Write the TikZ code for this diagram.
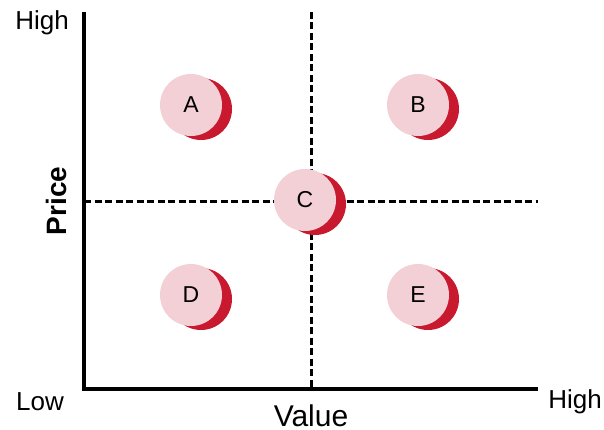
\documentclass[tikz,border=0pt]{standalone}
\usepackage{fontspec}
\setmainfont{Liberation Sans}
\definecolor{darkred}{HTML}{C8192E}
\definecolor{lightpink}{HTML}{F2D0D5}
\begin{document}
\begin{tikzpicture}[x=1pt,y=-1pt,
  axis/.style={line width=3.3pt},
  divider/.style={line width=3pt,dash pattern=on 7pt off 3.5pt},
  back/.style={circle,fill=darkred,minimum size=62pt,inner sep=0pt},
  front/.style={circle,fill=lightpink,minimum size=62pt,inner sep=0pt,font=\fontsize{23}{26}\selectfont},
  lbl/.style={font=\fontsize{26}{28}\selectfont,inner sep=0pt},
  title/.style={font=\fontsize{30}{32}\selectfont,inner sep=0pt}]
\useasboundingbox (0,0) rectangle (604,430);
\coordinate (o) at (84,389);
\coordinate (ytop) at (84,12);
\coordinate (xend) at (538,389);
\coordinate (vtop) at (311,12);
\coordinate (vbot) at (311,389);
\coordinate (hl) at (84,202);
\coordinate (hr) at (538,202);
\draw[divider] (vtop) -- (vbot);
\draw[divider] (hl) -- (hr);
\draw[axis] (ytop) -- (o) -- (xend);
\foreach \n/\x/\y in {A/191/105,B/418/105,C/305/200,D/191/295,E/418/295}{
  \node[back] (\n back) at (\x+10,\y+4) {};
  \node[front] (\n) at (\x,\y) {\n};
}
\node[lbl] (high1) at (42,23) {High};
\node[lbl] (low) at (40,402) {Low};
\node[lbl] (high2) at (575,402) {High};
\node[title] (value) at (311,416) {Value};
\node[title,font=\fontsize{28}{30}\selectfont\bfseries,rotate=90] (price) at (56,201) {Price};
\end{tikzpicture}
\end{document}
